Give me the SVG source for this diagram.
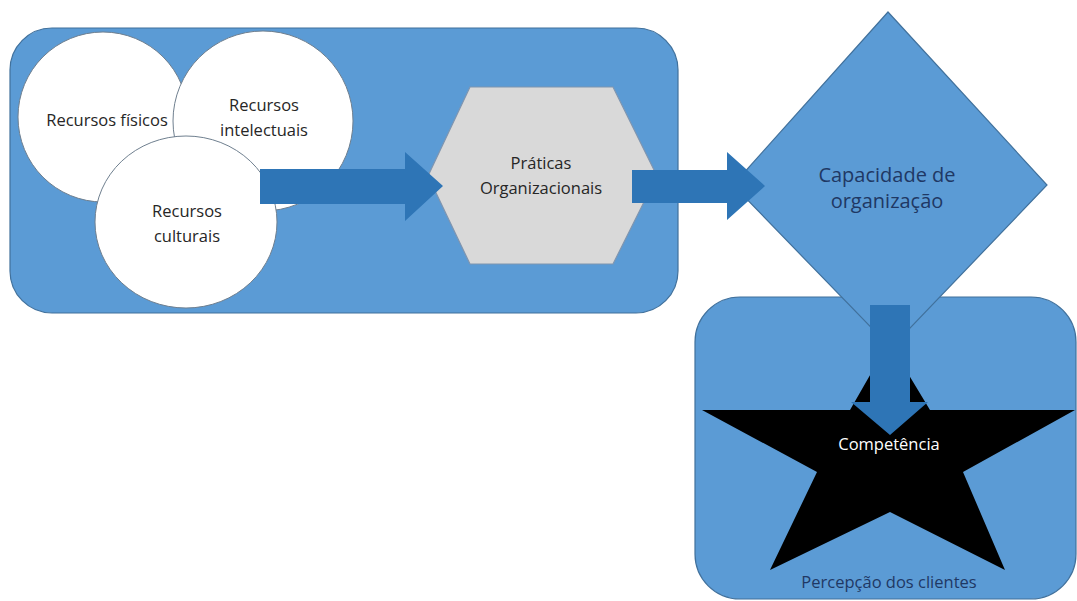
<svg xmlns="http://www.w3.org/2000/svg" width="1077" height="601" viewBox="0 0 1077 601">
<style>
.panel{fill:#5b9bd5;stroke:#41719c;stroke-width:1.2}
.circ{fill:#ffffff;stroke:#6f7f8f;stroke-width:1}
.hex{fill:#d9d9d9;stroke:#7f95b0;stroke-width:1.2}
.arrow{fill:#2e75b6;stroke:none}
.t{font-family:"Open Sans","Noto Sans",sans-serif;font-size:16.5px;fill:#262626;text-anchor:middle}
.navy{fill:#1f3864}
</style>
<rect width="1077" height="601" fill="#ffffff"/>
<g id="panel-left"><rect class="panel" x="10" y="28" width="668" height="285" rx="42"/></g>
<g id="recursos-fisicos"><circle class="circ" cx="103" cy="117" r="85"/><text class="t" x="107" y="126">Recursos físicos</text></g>
<g id="recursos-intelectuais"><circle class="circ" cx="263" cy="121" r="90"/><text class="t" x="264" y="111">Recursos</text><text class="t" x="264" y="136">intelectuais</text></g>
<g id="recursos-culturais"><ellipse class="circ" cx="186" cy="222" rx="91" ry="86"/><text class="t" x="187" y="217">Recursos</text><text class="t" x="187" y="242">culturais</text></g>
<g id="praticas"><polygon class="hex" points="470,87 613,87 657,176 613,264 470,264 428,176"/><text class="t" x="541" y="169">Práticas</text><text class="t" x="541" y="194">Organizacionais</text></g>
<g id="panel-right"><rect class="panel" x="695" y="297" width="381" height="302" rx="45"/></g>
<g id="capacidade"><polygon class="panel" points="888,12 1047,185 891,348 733,185"/><text class="t navy" x="887" y="182" style="font-size:20px">Capacidade de</text><text class="t navy" x="887" y="208" style="font-size:20px">organização</text></g>
<g id="competencia"><polygon fill="#000000" points="889,342 930,410 1075,410 963,472 1005,570 890,512 770,570 817,472 702,410 850,410"/><text class="t" x="889" y="450" style="fill:#ffffff">Competência</text></g>
<g id="percepcao"><text class="t navy" x="889" y="588">Percepção dos clientes</text></g>
<g id="connectors">
<polygon class="arrow" points="260,169 405,169 405,152 443,186 405,221 405,204 260,204"/>
<polygon class="arrow" points="632,170 727,170 727,152 765,186 727,220 727,203 632,203"/>
<polygon class="arrow" points="870,305 910,305 910,402 928,402 890,435 851,402 870,402"/>
</g>
</svg>
